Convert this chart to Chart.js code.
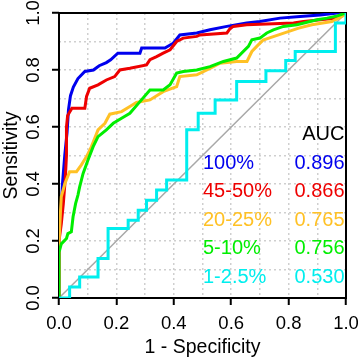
<!DOCTYPE html>
<html>
<head>
<meta charset="utf-8">
<script src="https://cdn.jsdelivr.net/npm/chart.js@4/dist/chart.umd.min.js"></script>
<style>
html,body{margin:0;padding:0;background:#fff;}
#wrap{width:358px;height:359px;position:relative;}
</style>
</head>
<body>
<div id="wrap"><canvas id="c" width="358" height="359"></canvas></div>
<script>
// ---- data (1 - specificity, sensitivity) ----
const seriesNames = ['100%', '45-50%', '20-25%', '5-10%', '1-2.5%'];
const aucLabels = ['0.896', '0.866', '0.765', '0.756', '0.530'];
const seriesColors = ['#0000ee', '#ee0000', '#ffc125', '#00ee00', '#00eeee'];

const fpr100 = [0,0,0.007,0.012,0.02,0.028,0.033,0.04,0.05,0.066,0.09,0.12,0.14,0.165,0.18,0.205,0.282,0.288,0.369,0.398,0.421,0.48,0.526,0.585,0.654,0.70,0.77,0.84,0.91,0.97,1];
const tpr100 = [0,0.22,0.3,0.4,0.5,0.58,0.66,0.71,0.74,0.77,0.795,0.80,0.815,0.826,0.836,0.859,0.859,0.877,0.877,0.894,0.923,0.93,0.941,0.953,0.965,0.97,0.982,0.988,0.993,1,1];

const fpr45 = [0,0,0.008,0.015,0.022,0.026,0.026,0.03,0.045,0.09,0.096,0.107,0.136,0.165,0.194,0.212,0.247,0.305,0.317,0.34,0.363,0.387,0.41,0.433,0.48,0.491,0.585,0.596,0.607,0.654,0.817,0.852,0.968,0.99,1];
const tpr45 = [0,0.2,0.26,0.33,0.42,0.5,0.6,0.64,0.666,0.666,0.707,0.736,0.748,0.765,0.777,0.80,0.806,0.818,0.836,0.847,0.859,0.871,0.90,0.912,0.918,0.923,0.93,0.945,0.953,0.959,0.965,0.97,0.982,0.995,1];

const fpr20 = [0,0,0.005,0.008,0.02,0.037,0.061,0.078,0.096,0.113,0.136,0.16,0.177,0.218,0.247,0.27,0.317,0.363,0.41,0.421,0.48,0.526,0.561,0.619,0.655,0.672,0.689,0.711,0.765,0.835,0.881,0.951,0.99,1];
const tpr20 = [0,0.19,0.3,0.355,0.40,0.443,0.443,0.467,0.496,0.531,0.59,0.613,0.645,0.654,0.672,0.686,0.695,0.724,0.742,0.777,0.783,0.806,0.824,0.83,0.83,0.865,0.883,0.905,0.923,0.947,0.959,0.97,0.99,1];

const fpr5 = [0,0,0.008,0.026,0.031,0.043,0.049,0.058,0.066,0.072,0.084,0.101,0.119,0.136,0.165,0.189,0.218,0.247,0.282,0.317,0.363,0.387,0.41,0.433,0.48,0.526,0.573,0.619,0.66,0.672,0.70,0.724,0.747,0.782,0.829,0.899,0.934,0.97,1];
const tpr5 = [0,0.16,0.19,0.209,0.226,0.232,0.285,0.332,0.361,0.39,0.437,0.484,0.531,0.566,0.59,0.613,0.631,0.648,0.689,0.73,0.73,0.748,0.789,0.795,0.80,0.812,0.83,0.842,0.883,0.906,0.912,0.93,0.941,0.953,0.959,0.976,0.982,0.99,1];

const fpr1 = [0,0.037,0.037,0.072,0.072,0.136,0.136,0.171,0.171,0.241,0.241,0.276,0.276,0.305,0.305,0.340,0.340,0.375,0.375,0.445,0.445,0.485,0.485,0.544,0.544,0.619,0.619,0.721,0.721,0.790,0.790,0.823,0.823,0.963,0.963,1.0,1.0];
const tpr1 = [0,0,0.039,0.039,0.074,0.074,0.139,0.139,0.244,0.244,0.273,0.273,0.308,0.308,0.343,0.343,0.379,0.379,0.414,0.414,0.590,0.590,0.648,0.648,0.695,0.695,0.760,0.760,0.797,0.797,0.833,0.833,0.865,0.865,0.965,0.965,1.0];

const refX = [0, 1];
const refY = [0, 1];

const tickLabelsX = ['0.0', '0.2', '0.4', '0.6', '0.8', '1.0'];
const tickLabelsY = ['0.0', '0.2', '0.4', '0.6', '0.8', '1.0'];
const xTitle = '1 - Specificity';
const yTitle = 'Sensitivity';
const legendHeader = 'AUC';

const seriesX = [fpr100, fpr45, fpr20, fpr5, fpr1];
const seriesY = [tpr100, tpr45, tpr20, tpr5, tpr1];

function pts(xs, ys) { return xs.map((x, i) => ({x: x, y: ys[i]})); }

const FONT = '"Liberation Sans", Arial, Helvetica, sans-serif';

const datasets = [];
// order: lower = drawn on top
const drawOrder = [4, 3, 2, 1, 0];
seriesNames.forEach((n, i) => {
  datasets.push({
    label: n,
    data: pts(seriesX[i], seriesY[i]),
    borderColor: seriesColors[i],
    borderWidth: 3,
    pointRadius: 0,
    tension: 0,
    fill: false,
    order: drawOrder[i]
  });
});
datasets.push({
  label: 'ref',
  data: pts(refX, refY),
  borderColor: '#a8a8a8',
  borderWidth: 1.5,
  pointRadius: 0,
  fill: false,
  order: 10
});

const boxPlugin = {
  id: 'box',
  beforeDatasetsDraw(chart) {
    const a = chart.chartArea, ctx = chart.ctx;
    ctx.save();
    ctx.strokeStyle = '#000';
    ctx.lineWidth = 2;
    ctx.strokeRect(a.left, a.top, a.right - a.left, a.bottom - a.top);
    ctx.restore();
  }
};

const legendPlugin = {
  id: 'aucLegend',
  afterDatasetsDraw(chart) {
    const a = chart.chartArea, ctx = chart.ctx;
    ctx.save();
    ctx.font = '20px ' + FONT;
    ctx.textBaseline = 'middle';
    const rowH = 28.5;
    const firstRow = a.bottom - 135;
    const leftX = a.left + 144;
    const rightX = a.right - 1.5;
    ctx.fillStyle = '#000';
    ctx.textAlign = 'right';
    ctx.fillText(legendHeader, rightX, firstRow - rowH);
    seriesNames.forEach((n, i) => {
      const y = firstRow + i * rowH;
      ctx.fillStyle = seriesColors[i];
      ctx.textAlign = 'left';
      ctx.fillText(n, leftX, y);
      ctx.textAlign = 'right';
      ctx.fillText(aucLabels[i], rightX, y);
    });
    ctx.restore();
  }
};

function tickCb(labels) {
  return function(value) {
    const k = Math.round(value * 10);
    return (k % 2 === 0) ? labels[k / 2] : '';
  };
}
function tickColor(ctx) {
  const v = ctx.tick ? Math.round(ctx.tick.value * 10) : 1;
  return v % 2 === 0 ? '#000' : 'rgba(0,0,0,0)';
}

new Chart(document.getElementById('c'), {
  type: 'line',
  data: { datasets: datasets },
  plugins: [boxPlugin, legendPlugin],
  options: {
    responsive: false,
    animation: false,
    devicePixelRatio: 1,
    layout: { padding: { top: 13, right: 12, left: 0, bottom: 0 } },
    plugins: { legend: { display: false }, tooltip: { enabled: false } },
    scales: {
      x: {
        type: 'linear', min: 0, max: 1,
        afterBuildTicks(s) { s.ticks = []; for (let k = 0; k <= 10; k++) s.ticks.push({value: k / 10}); },
        afterFit(s) { s.height = 61; s.paddingLeft = 0; s.paddingRight = 0; },
        ticks: { autoSkip: false, maxRotation: 0, minRotation: 0, padding: 8, color: '#000',
                 font: { size: 18.5, family: FONT }, callback: tickCb(tickLabelsX) },
        grid: { color: '#cfcfcf', lineWidth: 1.5, drawTicks: true, tickLength: 7, tickWidth: 2, tickColor: tickColor },
        border: { display: false, dash: [2, 3] },
        title: { display: true, text: xTitle, color: '#000', font: { size: 19.5, family: FONT }, padding: { top: 0, bottom: 0 } }
      },
      y: {
        type: 'linear', min: 0, max: 1,
        afterBuildTicks(s) { s.ticks = []; for (let k = 0; k <= 10; k++) s.ticks.push({value: k / 10}); },
        afterFit(s) { s.width = 59; s.paddingTop = 0; s.paddingBottom = 0; },
        ticks: { autoSkip: false, minRotation: 90, maxRotation: 90, crossAlign: 'center', padding: 5.5, color: '#000',
                 font: { size: 18.5, family: FONT }, callback: tickCb(tickLabelsY) },
        grid: { color: '#cfcfcf', lineWidth: 1.5, drawTicks: true, tickLength: 7, tickWidth: 2, tickColor: tickColor },
        border: { display: false, dash: [2, 3] },
        title: { display: true, text: yTitle, color: '#000', font: { size: 19.5, family: FONT }, padding: { top: 0, bottom: 0 } }
      }
    }
  }
});
</script>
</body>
</html>
